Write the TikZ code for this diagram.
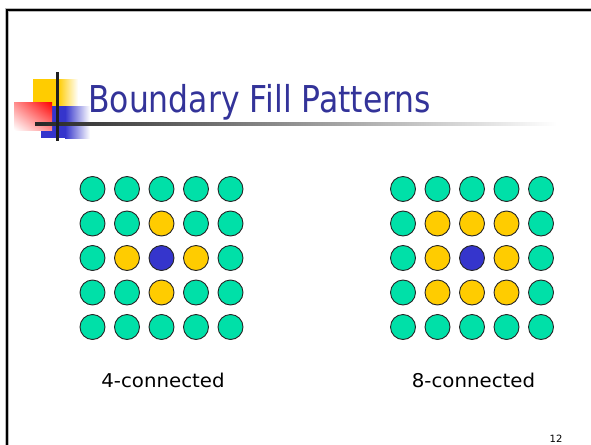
\documentclass[tikz,border=0pt]{standalone}
\usepackage{fontspec}
\setmainfont{DejaVu Sans}
\usepackage{graphicx}
\usetikzlibrary{shadings}
\definecolor{dotgreen}{HTML}{00E0A8}
\definecolor{dotyellow}{HTML}{FFCC00}
\definecolor{dotblue}{HTML}{3535CC}
\definecolor{titleblue}{HTML}{333399}
\definecolor{logored}{HTML}{FF0000}
\begin{document}
\begin{tikzpicture}[x=1pt,y=-1pt,
  dot/.style={circle,draw=black!85,line width=0.9pt,minimum size=25pt,inner sep=0pt},
  framestyle/.style={line join=miter},
  labeltext/.style={anchor=base,inner sep=0pt,font=\fontsize{19}{19}\selectfont}]
\useasboundingbox (0,0) rectangle (591,444);
\fill[white] (0,0) rectangle (591,444);
% frame
\draw[framestyle,gray!55,line width=3.6pt] (7,446) -- (7,10) -- (593,10);
\draw[framestyle,black,line width=2pt] (7,446) -- (7,10) -- (593,10);
% logo
\fill[dotyellow] (33,79) rectangle (58,107);
\shade[left color=dotyellow,right color=white] (58,79) rectangle (78,107);
\fill[dotblue] (41,106) rectangle (65,138);
\shade[left color=dotblue,right color=white] (65,106) rectangle (90,138);
\shade[upper right=logored,lower left=white,upper left=logored!45!white,lower right=logored!45!white] (14,102) rectangle (52,130);
\shade[left color=black!85,right color=white] (35,122.5) rectangle (557,125.5);
\fill[black!88] (55.5,72) rectangle (58.5,141);
% title
\node[anchor=base west,inner sep=0pt,text=titleblue] (title) at (88,112)
  {\scalebox{0.85}[1]{\fontsize{37}{37}\selectfont Boundary Fill Patterns}};
% grids
\foreach \r in {0,...,4}{
  \foreach \c in {0,...,4}{
    \pgfmathtruncatemacro{\dr}{abs(\r-2)}
    \pgfmathtruncatemacro{\dc}{abs(\c-2)}
    \pgfmathtruncatemacro{\sumd}{\dr+\dc}
    \pgfmathtruncatemacro{\maxd}{max(\dr,\dc)}
    \ifnum\sumd=0 \def\colL{dotblue}\else\ifnum\sumd=1 \def\colL{dotyellow}\else\def\colL{dotgreen}\fi\fi
    \ifnum\maxd=0 \def\colR{dotblue}\else\ifnum\maxd=1 \def\colR{dotyellow}\else\def\colR{dotgreen}\fi\fi
    \node[dot,fill=\colL] (L-\r-\c) at ({92.5+34.5*\c},{189+34.5*\r}) {};
    \node[dot,fill=\colR] (R-\r-\c) at ({403+34.5*\c},{189+34.5*\r}) {};
  }
}
% labels
\node[labeltext] (lab4) at (163,387) {\scalebox{1.04}[1]{4-connected}};
\node[labeltext] (lab8) at (473.5,387) {\scalebox{1.04}[1]{8-connected}};
\node[anchor=base,inner sep=0pt,font=\fontsize{10}{10}\selectfont] (pagenum) at (556,442) {12};
\end{tikzpicture}
\end{document}
